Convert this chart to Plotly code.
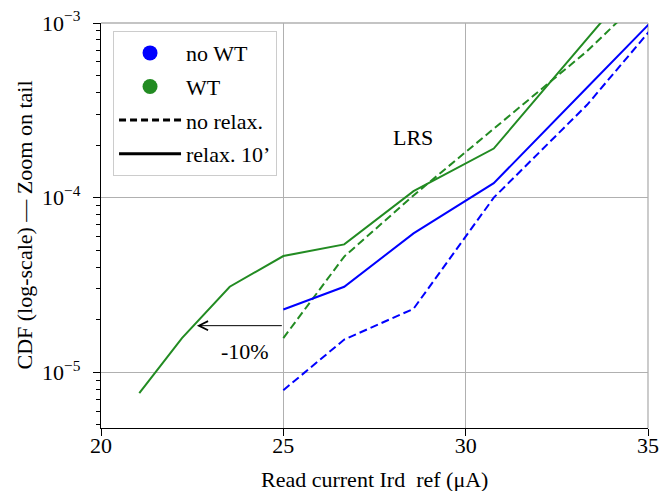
import numpy as np
import plotly.graph_objects as go

# Read current values (uA) at which CDF points are sampled
x_wt_relax = [21.05, 22.22, 23.53, 25.0, 26.67, 28.57, 30.77, 33.33, 36.36]
y_wt_relax = [7.6e-6, 1.57e-5, 3.09e-5, 4.63e-5, 5.4e-5, 1.09e-4, 1.91e-4, 8.0e-4, 4.5e-3]

x_wt_norelax = [25.0, 26.67, 28.57, 30.77, 33.33, 36.36]
y_wt_norelax = [1.57e-5, 4.6e-5, 1.03e-4, 2.49e-4, 6.9e-4, 2.8e-3]

x_nowt_relax = [25.0, 26.67, 28.57, 30.77, 33.33, 36.36]
y_nowt_relax = [2.29e-5, 3.09e-5, 6.24e-5, 1.21e-4, 4.27e-4, 1.9e-3]

x_nowt_norelax = [25.0, 26.67, 28.57, 30.77, 33.33, 36.36]
y_nowt_norelax = [7.9e-6, 1.54e-5, 2.31e-5, 1.0e-4, 3.4e-4, 1.9e-3]

x_ticks = [20, 25, 30, 35]
y_ticks = [1e-5, 1e-4, 1e-3]
y_ticktext = ["10<sup>\u22125</sup>", "10<sup>\u22124</sup>", "10<sup>\u22123</sup>"]

BLUE = "#0000ff"
GREEN = "#228b22"
GRID = "#b0b0b0"
FONT = "Liberation Serif"
FS = 22

fig = go.Figure()
dash = "8px,4px"
fig.add_trace(go.Scatter(x=x_wt_relax, y=y_wt_relax, mode="lines",
                         line=dict(color=GREEN, width=2), showlegend=False))
fig.add_trace(go.Scatter(x=x_wt_norelax, y=y_wt_norelax, mode="lines",
                         line=dict(color=GREEN, width=2, dash=dash), showlegend=False))
fig.add_trace(go.Scatter(x=x_nowt_relax, y=y_nowt_relax, mode="lines",
                         line=dict(color=BLUE, width=2), showlegend=False))
fig.add_trace(go.Scatter(x=x_nowt_norelax, y=y_nowt_norelax, mode="lines",
                         line=dict(color=BLUE, width=2, dash=dash), showlegend=False))

# legend entries
fig.add_trace(go.Scatter(x=[None], y=[None], mode="markers", name="no WT",
                         marker=dict(color=BLUE, size=15), legendgroup="a"))
fig.add_trace(go.Scatter(x=[None], y=[None], mode="markers", name="WT",
                         marker=dict(color=GREEN, size=15), legendgroup="b"))
fig.add_trace(go.Scatter(x=[None], y=[None], mode="lines", name="no relax.",
                         line=dict(color="black", width=3, dash="7px,4px"), legendgroup="c"))
fig.add_trace(go.Scatter(x=[None], y=[None], mode="lines", name="relax. 10\u2019",
                         line=dict(color="black", width=3), legendgroup="d"))

arrow_y = np.log10(1.85e-5)
fig.add_annotation(x=22.63, y=arrow_y, ax=25.0, ay=arrow_y, axref="x", ayref="y",
                   xref="x", yref="y", text="", showarrow=True, arrowhead=5,
                   arrowsize=1.8, arrowwidth=1, arrowcolor="black")
fig.add_annotation(x=23.95, y=np.log10(1.315e-5), text="-10%", showarrow=False,
                   font=dict(family=FONT, size=FS, color="black"))
fig.add_annotation(x=28.55, y=np.log10(2.22e-4), text="LRS", showarrow=False,
                   font=dict(family=FONT, size=FS, color="black"))

# axis titles
fig.add_annotation(xref="paper", yref="paper", x=0.5, y=0, yanchor="middle",
                   yshift=-51, text="Read current Ird\u00a0\u00a0ref (\u03bcA)",
                   showarrow=False, font=dict(family=FONT, size=FS, color="black"))
fig.add_annotation(xref="paper", yref="paper", x=0, y=0.5, xanchor="center",
                   yanchor="middle", xshift=-77, textangle=-90,
                   text="CDF (log-scale) \u2014 Zoom on tail",
                   showarrow=False, font=dict(family=FONT, size=FS, color="black"))

# gridlines coinciding with the top/right edges of the plot area
fig.add_shape(type="line", xref="paper", yref="paper", x0=0, x1=1, y0=1, y1=1,
              line=dict(color=GRID, width=1.3), layer="below")
fig.add_shape(type="line", xref="paper", yref="paper", x0=1, x1=1, y0=0, y1=1,
              line=dict(color=GRID, width=1.3), layer="below")

minor_vals = [v * 10.0 ** e for e in (-6, -5, -4) for v in range(2, 10)]

fig.update_layout(
    width=670, height=491,
    margin=dict(l=101, r=22, t=23, b=63, autoexpand=False),
    paper_bgcolor="white", plot_bgcolor="white",
    font=dict(family=FONT, size=FS, color="black"),
    legend=dict(x=0.022, y=0.98, xanchor="left", yanchor="top",
                bgcolor="white", bordercolor="#cccccc", borderwidth=1,
                font=dict(family=FONT, size=FS), tracegroupgap=2,
                itemwidth=62),
    xaxis=dict(range=[20, 35], tickvals=x_ticks, showgrid=True, automargin=False,
               gridcolor=GRID, gridwidth=1.3, ticks="outside", ticklen=7,
               tickwidth=1.2, tickcolor="black", showline=True, linecolor="black",
               linewidth=1.2, zeroline=False, ticklabelstandoff=-10),
    yaxis=dict(type="log", range=[np.log10(4.8e-6), -3], tickvals=y_ticks,
               ticktext=y_ticktext, showgrid=True, gridcolor=GRID, gridwidth=1.3,
               automargin=False, ticklabelstandoff=8,
               ticks="outside", ticklen=7, tickwidth=1.2, tickcolor="black",
               showline=True, linecolor="black", linewidth=1.2, zeroline=False,
               minor=dict(tickvals=minor_vals, ticks="outside", ticklen=4,
                          tickcolor="black", tickwidth=1, showgrid=False)),
)

fig.write_html("out.html")
